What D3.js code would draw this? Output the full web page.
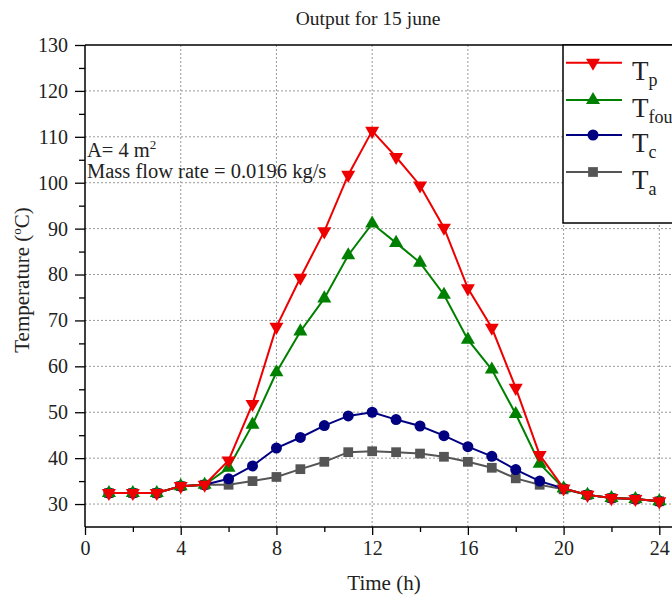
<!DOCTYPE html>
<html>
<head>
<meta charset="utf-8">
<script src="https://cdn.jsdelivr.net/npm/d3@7"></script>
<style>
  html, body { margin: 0; padding: 0; background: #fff; }
  svg { display: block; font-family: "Liberation Serif", "Times New Roman", serif; }
</style>
</head>
<body>
<svg id="chart" width="672" height="599"></svg>
<script>
// ---- data ----
const hours = [1,2,3,4,5,6,7,8,9,10,11,12,13,14,15,16,17,18,19,20,21,22,23,24];
const Tp   = [32.4,32.4,32.4,33.9,34.2,39.5,51.8,68.6,79.3,89.4,101.7,111.3,105.6,99.4,90.2,77.0,68.4,55.3,40.7,33.4,32.0,31.3,31.1,30.6];
const Tfou = [32.4,32.4,32.4,33.9,34.2,37.9,47.3,58.7,67.6,74.8,84.2,91.1,86.9,82.6,75.6,65.8,59.3,49.6,38.8,33.4,32.0,31.3,31.1,30.6];
const Tc   = [32.4,32.4,32.4,33.9,34.2,35.5,38.3,42.2,44.5,47.1,49.2,50.0,48.4,47.0,44.9,42.5,40.4,37.5,35.0,33.4,32.0,31.3,31.1,30.6];
const Ta   = [32.4,32.4,32.4,33.9,34.2,34.2,35.0,35.9,37.6,39.2,41.3,41.5,41.3,41.0,40.3,39.2,37.9,35.6,34.2,33.2,32.0,31.3,31.1,30.6];
const xTicks = [0,4,8,12,16,20,24];
const xMinorTicks = [2,6,10,14,18,22];
const yTicks = [30,40,50,60,70,80,90,100,110,120,130];
const yMinorTicks = [35,45,55,65,75,85,95,105,115,125];
const seriesNames = ["T_p","T_fou","T_c","T_a"];
const title = "Output for 15 june";
const xLabel = "Time (h)";
const annot1 = "A= 4 m";
const annot2 = "Mass flow rate = 0.0196 kg/s";

// ---- layout ----
const svg = d3.select("#chart");
const L = 85, T = 45, B = 527;
const x = d3.scaleLinear().domain([0, 25]).range([L, L + 25 * 23.93]);
const y = d3.scaleLinear().domain([25, 130]).range([B, T]);

const defs = [
  {vals: Tp,   color: "#ee0000", symbol: d3.symbolTriangle, size: 85, rot: 180},
  {vals: Tfou, color: "#008000", symbol: d3.symbolTriangle, size: 85, rot: 0},
  {vals: Tc,   color: "#000080", symbol: d3.symbolCircle,   size: 95, rot: 0},
  {vals: Ta,   color: "#555555", symbol: d3.symbolSquare,   size: 95, rot: 0}
];

// grid
const gridColor = "#9a9a9a";
svg.append("g").selectAll("line").data(yTicks.filter(v => v < 130)).join("line")
  .attr("x1", L).attr("x2", 672).attr("y1", d => y(d)).attr("y2", d => y(d))
  .attr("stroke", gridColor).attr("stroke-width", 1).attr("stroke-dasharray", "2,2");
svg.append("g").selectAll("line").data(xTicks.filter(v => v > 0)).join("line")
  .attr("y1", T).attr("y2", B).attr("x1", d => x(d)).attr("x2", d => x(d))
  .attr("stroke", gridColor).attr("stroke-width", 1).attr("stroke-dasharray", "2,2");

// axes
const yAxis = d3.axisLeft(y).tickValues(yTicks).tickSize(10).tickPadding(7).tickFormat(d3.format("d"));
const gy = svg.append("g").attr("transform", `translate(${L},0)`).call(yAxis);
const yMinor = d3.axisLeft(y).tickValues(yMinorTicks).tickSize(6).tickFormat("");
const gym = svg.append("g").attr("transform", `translate(${L},0)`).call(yMinor);
const xAxis = d3.axisBottom(x).tickValues(xTicks).tickSize(8).tickPadding(6).tickFormat(d3.format("d"));
const gx = svg.append("g").attr("transform", `translate(0,${B})`).call(xAxis);
const xMinor = d3.axisBottom(x).tickValues(xMinorTicks).tickSize(5).tickFormat("");
const gxm = svg.append("g").attr("transform", `translate(0,${B})`).call(xMinor);
[gy, gym, gx, gxm].forEach(g => {
  g.select(".domain").remove();
  g.selectAll("line").attr("stroke", "#000").attr("stroke-width", 1.3);
  g.selectAll("text").attr("font-family", "Liberation Serif").attr("font-size", 20).attr("fill", "#222");
});
// frame lines
svg.append("line").attr("x1", L).attr("x2", L).attr("y1", T).attr("y2", B).attr("stroke", "#000").attr("stroke-width", 1.5);
svg.append("line").attr("x1", L).attr("x2", 672).attr("y1", B).attr("y2", B).attr("stroke", "#000").attr("stroke-width", 1.5);
svg.append("line").attr("x1", L).attr("x2", 672).attr("y1", T).attr("y2", T).attr("stroke", "#000").attr("stroke-width", 1.5);

// series (draw Ta first, Tp last)
const line = d3.line().x((d, i) => x(hours[i])).y(d => y(d));
defs.slice().reverse().forEach(s => {
  svg.append("path").datum(s.vals).attr("d", line)
    .attr("fill", "none").attr("stroke", s.color).attr("stroke-width", 2);
  svg.append("g").selectAll("path").data(s.vals).join("path")
    .attr("d", d3.symbol().type(s.symbol).size(s.size))
    .attr("transform", (d, i) => `translate(${x(hours[i])},${y(d)}) rotate(${s.rot})`)
    .attr("fill", s.color);
});

// legend
const lg = svg.append("g");
lg.append("rect").attr("x", 563).attr("y", T).attr("width", 200).attr("height", 178)
  .attr("fill", "#fff").attr("stroke", "#000").attr("stroke-width", 1.5);
const rowY = [62.7, 100, 135, 172];
defs.forEach((s, i) => {
  const ry = rowY[i];
  lg.append("line").attr("x1", 566).attr("x2", 622).attr("y1", ry).attr("y2", ry)
    .attr("stroke", s.color).attr("stroke-width", 2);
  lg.append("path").attr("d", d3.symbol().type(s.symbol).size(s.size))
    .attr("transform", `translate(593,${ry}) rotate(${s.rot})`).attr("fill", s.color);
  const t = lg.append("text").attr("x", 632).attr("y", ry + 17)
    .attr("font-size", 27).attr("fill", "#222");
  t.append("tspan").text("T");
  t.append("tspan").attr("font-size", 18).attr("dy", 6).text(seriesNames[i].split("_")[1]);
});

// annotations
const a1 = svg.append("text").attr("x", 87).attr("y", 157).attr("font-size", 20.5).attr("fill", "#222");
a1.append("tspan").text(annot1);
a1.append("tspan").attr("font-size", 13).attr("dy", -8).text("2");
svg.append("text").attr("x", 87).attr("y", 178).attr("font-size", 20.5).attr("fill", "#222").text(annot2);

// title and axis labels
svg.append("text").attr("x", 368).attr("y", 25).attr("text-anchor", "middle")
  .attr("font-size", 19.5).attr("fill", "#222").text(title);
svg.append("text").attr("x", 384).attr("y", 590).attr("text-anchor", "middle")
  .attr("font-size", 21).attr("fill", "#222").text(xLabel);
const yl = svg.append("text").attr("transform", "translate(29,280) rotate(-90)")
  .attr("text-anchor", "middle").attr("font-size", 21).attr("fill", "#222");
yl.append("tspan").text("Temperature (");
yl.append("tspan").attr("font-size", 13).attr("dy", -8).text("o");
yl.append("tspan").attr("dy", 8).text("C)");
</script>
</body>
</html>
